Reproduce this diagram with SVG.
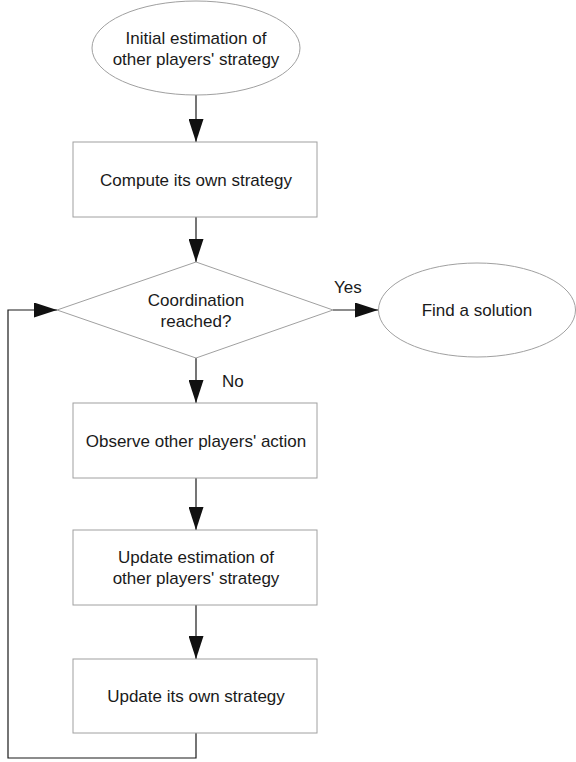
<svg xmlns="http://www.w3.org/2000/svg" width="576" height="762" viewBox="0 0 576 762">
  <style>
    .shape { fill: #ffffff; stroke: #a0a0a0; stroke-width: 1; }
    .conn { fill: none; stroke: #1a1a1a; stroke-width: 1.2; }
    .lbl { font-family: "Liberation Sans", Arial, sans-serif; font-size: 17px; fill: #1a1a1a; text-anchor: middle; }
    .edge { font-family: "Liberation Sans", Arial, sans-serif; font-size: 17px; fill: #1a1a1a; }
  </style>
  <defs>
    <marker id="arrow" markerUnits="userSpaceOnUse" markerWidth="23" markerHeight="15" refX="23" refY="7.5" orient="auto">
      <path d="M0,0 L23,7.5 L0,15 z" fill="#111111"/>
    </marker>
  </defs>
  <rect width="576" height="762" fill="#ffffff"/>

  <g id="connectors">
    <line class="conn" x1="196" y1="95" x2="196" y2="142" marker-end="url(#arrow)"/>
    <line class="conn" x1="196" y1="217" x2="196" y2="262" marker-end="url(#arrow)"/>
    <line class="conn" x1="333" y1="310" x2="378" y2="310" marker-end="url(#arrow)"/>
    <line class="conn" x1="196" y1="358" x2="196" y2="403" marker-end="url(#arrow)"/>
    <line class="conn" x1="196" y1="478" x2="196" y2="530" marker-end="url(#arrow)"/>
    <line class="conn" x1="196" y1="605" x2="196" y2="659" marker-end="url(#arrow)"/>
    <polyline class="conn" points="196,733 196,758 8,758 8,310 57,310" marker-end="url(#arrow)"/>
    <text class="edge" x="334" y="293">Yes</text>
    <text class="edge" x="222" y="387">No</text>
  </g>

  <g id="start">
    <ellipse class="shape" cx="196" cy="48" rx="104" ry="47"/>
    <text class="lbl" x="196" y="44">Initial estimation of</text>
    <text class="lbl" x="196" y="65">other players' strategy</text>
  </g>

  <g id="compute">
    <rect class="shape" x="73" y="142" width="244" height="75"/>
    <text class="lbl" x="196" y="186">Compute its own strategy</text>
  </g>

  <g id="decision">
    <polygon class="shape" points="196,262 333,310 196,358 57,310"/>
    <text class="lbl" x="196" y="306">Coordination</text>
    <text class="lbl" x="196" y="327">reached?</text>
  </g>

  <g id="solution">
    <ellipse class="shape" cx="477" cy="310" rx="98.5" ry="47"/>
    <text class="lbl" x="477" y="316">Find a solution</text>
  </g>

  <g id="observe">
    <rect class="shape" x="73" y="403" width="244" height="75"/>
    <text class="lbl" x="196" y="447">Observe other players' action</text>
  </g>

  <g id="update-estimation">
    <rect class="shape" x="73" y="530" width="244" height="75"/>
    <text class="lbl" x="196" y="563">Update estimation of</text>
    <text class="lbl" x="196" y="584">other players' strategy</text>
  </g>

  <g id="update-own">
    <rect class="shape" x="73" y="659" width="244" height="74"/>
    <text class="lbl" x="196" y="702">Update its own strategy</text>
  </g>
</svg>
